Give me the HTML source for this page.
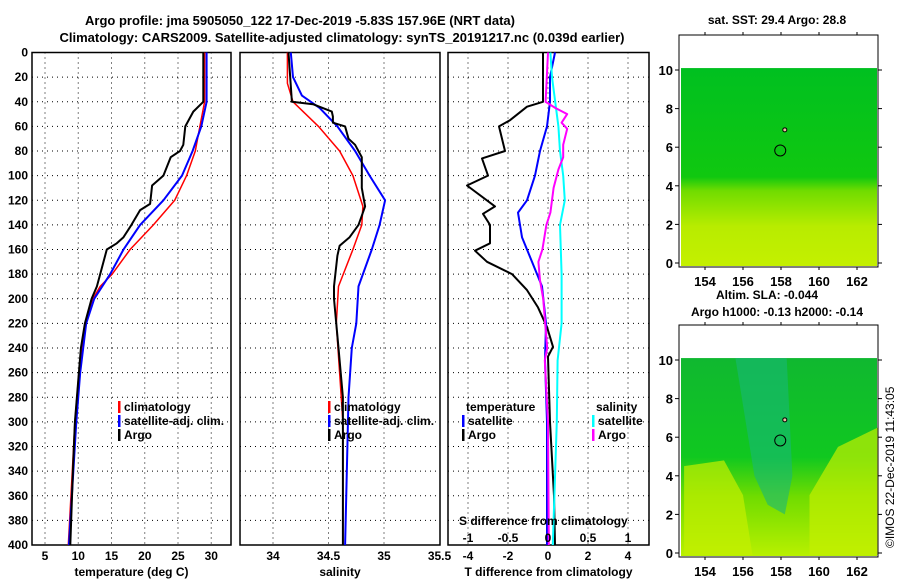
<!DOCTYPE html>
<html><head><meta charset="utf-8"><style>
body{margin:0;background:#fff;}
svg{display:block;font-family:"Liberation Sans",sans-serif;font-weight:bold;font-size:12px;}
</style></head><body>
<svg id="fig" width="900" height="580" viewBox="0 0 900 580" xmlns="http://www.w3.org/2000/svg">
<defs>
<linearGradient id="sstg" x1="0" y1="0" x2="0" y2="1">
<stop offset="0" stop-color="#00c020"/><stop offset="0.55" stop-color="#10c810"/><stop offset="0.62" stop-color="#70dc00"/><stop offset="0.8" stop-color="#b8ec00"/><stop offset="1" stop-color="#c4f000"/>
</linearGradient>
<linearGradient id="slag" x1="0" y1="0" x2="0" y2="1">
<stop offset="0" stop-color="#10b830"/><stop offset="0.5" stop-color="#10c820"/><stop offset="0.7" stop-color="#70dc00"/><stop offset="1" stop-color="#b8f000"/>
</linearGradient>
</defs>
<text x="300" y="25" text-anchor="middle" font-size="13">Argo profile: jma 5905050_122 17-Dec-2019 -5.83S 157.96E (NRT data)</text>
<text x="342" y="42" text-anchor="middle" font-size="13">Climatology: CARS2009. Satellite-adjusted climatology: synTS_20191217.nc (0.039d earlier)</text>
<g id="panels"></g>
<g id="maps"></g>
</svg>
<script>
const NS="http://www.w3.org/2000/svg";
const svg=document.getElementById('fig');
function mk(tag,attrs,parent,text){const e=document.createElementNS(NS,tag);for(const k in attrs)e.setAttribute(k,attrs[k]);if(text!==undefined)e.textContent=text;(parent||svg).appendChild(e);return e;}

// ---- data ----
const depthTicks=[0,20,40,60,80,100,120,140,160,180,200,220,240,260,280,300,320,340,360,380,400];
const tempTicks=[5,10,15,20,25,30];
const salTicks=[34,34.5,35,35.5];
const tdiffTicks=[-4,-2,0,2,4];
const sdiffTicks=[-1,-0.5,0,0.5,1];

const argoTempDepth=[0,40,48,60,75,80,85,100,108,123,128,140,150,155,160,180,190,200,220,240,260,280,300,340,400];
const argoTemp=[28.8,28.8,27.3,26.1,25.8,25.3,23.9,22.8,21.1,20.8,19.3,18,16.8,15.8,14.3,13.3,12.8,12,11,10.4,10.1,9.8,9.5,9.2,8.8];
const climTempDepth=[0,40,60,80,100,120,140,160,180,190,200,220,260,300,340,400];
const climTemp=[29.0,29.0,28.3,27.6,26.3,24.5,21.3,17.8,15.1,13.3,12.2,11,10.1,9.5,9.1,8.5];
const satTempDepth=[0,40,60,80,100,120,140,160,180,190,200,220,260,300,400];
const satTemp=[29.3,29.3,28.5,27.2,25.6,22.8,19.3,16.8,14.8,13.6,12.4,11.2,10.3,9.7,8.6];

const argoSalDepth=[0,40,42,48,52,57,60,70,75,85,110,125,140,150,157,165,190,200,240,280,320,400];
const argoSal=[34.14,34.17,34.36,34.53,34.54,34.54,34.65,34.68,34.74,34.8,34.8,34.83,34.77,34.69,34.6,34.58,34.55,34.55,34.59,34.63,34.63,34.63];
const climSalDepth=[0,25,40,60,80,100,125,140,160,190,220,260,300,400];
const climSal=[34.13,34.13,34.18,34.41,34.6,34.72,34.81,34.8,34.72,34.59,34.57,34.6,34.63,34.63];
const satSalDepth=[0,20,35,45,60,80,100,120,140,160,190,220,240,280,320,400];
const satSal=[34.16,34.18,34.26,34.42,34.58,34.74,34.87,35.01,34.96,34.89,34.77,34.75,34.71,34.68,34.67,34.65];

const argoTdDepth=[0,40,44,55,60,80,86,100,108,125,131,140,155,161,170,180,193,207,223,239,247,300,360,400];
const argoTd=[-0.25,-0.25,-1.05,-1.9,-2.45,-2.15,-3.3,-3.0,-4.05,-2.65,-3.25,-2.9,-2.9,-3.65,-3.05,-1.8,-1.05,-0.5,-0.05,0.25,0.0,0.1,0.3,0.35];
const satTdDepth=[0,20,40,60,80,100,120,130,150,170,190,220,250,300,400];
const satTd=[0.35,0.1,0.1,-0.05,-0.4,-0.65,-1.05,-1.5,-1.3,-0.8,-0.3,-0.1,-0.15,-0.05,-0.05];
const argoSdDepth=[0,40,45,50,57,62,75,85,95,110,130,140,160,170,185,200,240,250,300,400];
const argoSd=[0,-0.03,0.09,0.24,0.17,0.24,0.19,0.19,0.13,0.07,0.03,-0.02,-0.07,-0.12,-0.1,-0.06,-0.01,-0.04,0,0.01];
const satSdDepth=[0,20,40,60,80,100,120,140,180,220,250,300,400];
const satSd=[0.03,0.05,0.09,0.13,0.15,0.19,0.21,0.15,0.17,0.17,0.12,0.11,0.06];

// ---- axes ----
const Y0=52.5,Y1=545;
const yD=d=>Y0+d*(Y1-Y0)/400;
const xT=t=>45+(t-5)*6.65;
const xS=s=>273+(s-34)*111;
const xTd=v=>548+v*20;
const xSd=v=>548+v*80;

const P=document.getElementById('panels');
function panel(name,x0,x1,ticks,xf,fmt,title){
  const g=mk('g',{},P);
  // grid
  depthTicks.forEach((d,i)=>{if(i>0&&i<depthTicks.length-1){const l=mk('line',{x1:x0,x2:x1,y1:yD(d),y2:yD(d),stroke:'#000','stroke-dasharray':'1,4','stroke-width':1},g);}});
  ticks.forEach(t=>{const x=xf(t);if(x>x0+2&&x<x1-2){const l=mk('line',{x1:x,x2:x,y1:Y0,y2:Y1,stroke:'#000','stroke-dasharray':'1,4','stroke-width':1},g);}});
  ticks.forEach(t=>{const tx=mk('text',{x:xf(t),y:560,'text-anchor':'middle'},g,fmt(t));});
  const tt=mk('text',{x:(x0+x1)/2,y:576,'text-anchor':'middle'},g,title);
  
  const r=mk('rect',{x:x0,y:Y0,width:x1-x0,height:Y1-Y0,fill:'none',stroke:'#000','stroke-width':1.5},g);
  
  return g;
}
function line(g,depths,vals,xf,color,w,name){
  let d='';depths.forEach((dp,i)=>{d+=(i?'L':'M')+xf(vals[i]).toFixed(1)+','+yD(dp).toFixed(1);});
  const p=mk('path',{d:d,fill:'none',stroke:color,'stroke-width':w,'stroke-linejoin':'round'},g);
  
}
function legend(g,x,y,color,label,name){
  const r=mk('rect',{x:x,y:y-10,width:2.5,height:12,fill:color},g);
  
  const t=mk('text',{x:x+6,y:y},g,label);
  
}
// depth labels
const dl=mk('g',{},P);
depthTicks.forEach(d=>{const t=mk('text',{x:28,y:yD(d)+4,'text-anchor':'end'},dl,String(d));});

const g1=panel('temperature-panel',32,231,tempTicks,xT,String,'temperature (deg C)');
line(g1,climTempDepth,climTemp,xT,'#f00',1.5,'climatology-temp-line');
line(g1,satTempDepth,satTemp,xT,'#00f',2,'satellite-temp-line');
line(g1,argoTempDepth,argoTemp,xT,'#000',2,'argo-temp-line');
legend(g1,118,411,'#f00','climatology','legend-climatology');
legend(g1,118,425,'#00f','satellite-adj. clim.','legend-satellite');
legend(g1,118,439,'#000','Argo','legend-argo');

const g2=panel('salinity-panel',240,440,salTicks,xS,String,'salinity');
line(g2,climSalDepth,climSal,xS,'#f00',1.5,'climatology-sal-line');
line(g2,satSalDepth,satSal,xS,'#00f',2,'satellite-sal-line');
line(g2,argoSalDepth,argoSal,xS,'#000',2,'argo-sal-line');
legend(g2,328,411,'#f00','climatology','legend-climatology');
legend(g2,328,425,'#00f','satellite-adj. clim.','legend-satellite');
legend(g2,328,439,'#000','Argo','legend-argo');

const g3=panel('difference-panel',448,649,tdiffTicks,xTd,String,'T difference from climatology');
line(g3,argoTdDepth,argoTd,xTd,'#000',2,'argo-tdiff-line');
line(g3,satTdDepth,satTd,xTd,'#00f',2,'satellite-tdiff-line');
line(g3,satSdDepth,satSd,xSd,'#0ff',2,'satellite-sdiff-line');
line(g3,argoSdDepth,argoSd,xSd,'#f0f',2,'argo-sdiff-line');
const lt=mk('text',{x:466,y:411},g3,'temperature');
const ls=mk('text',{x:596,y:411},g3,'salinity');
legend(g3,462,425,'#00f','satellite','legend-temp-satellite');
legend(g3,462,439,'#000','Argo','legend-temp-argo');
legend(g3,592,425,'#0ff','satellite','legend-sal-satellite');
legend(g3,592,439,'#f0f','Argo','legend-sal-argo');
const st=mk('text',{x:459,y:525},g3,'S difference from climatology');
sdiffTicks.forEach(v=>{const t=mk('text',{x:xSd(v),y:542,'text-anchor':'middle'},g3,String(v));});

// ---- maps ----
const M=document.getElementById('maps');
const lonTicks=[154,156,158,160,162];
const latTicks=[0,2,4,6,8,10];
function map(name,top,bottomY,fill,titles,extra){
  const g=mk('g',{},M);
  const lat10=top+35,lat0=bottomY-4;
  const yL=l=>lat0-(lat0-lat10)*l/10;
  const xL=l=>705+(l-154)*19;
  titles.forEach((t,i)=>{const e=mk('text',{x:t[1],y:t[2],'text-anchor':'middle'},g,t[0]);});
  const bg=mk('rect',{x:681,y:yL(10.1),width:196,height:lat0+3-yL(10.1),fill:'url(#'+fill+')'},g);
  
  if(extra)extra(g,xL,yL);
  const fr=mk('rect',{x:679,y:top,width:199,height:bottomY-top,fill:'none',stroke:'#000','stroke-width':1},g);
  
  latTicks.forEach(l=>{const t=mk('text',{x:673,y:yL(l)+5,'text-anchor':'end','font-size':13},g,String(l));
    mk('line',{x1:878,x2:882,y1:yL(l),y2:yL(l),stroke:'#000'},g);mk('line',{x1:675,x2:679,y1:yL(l),y2:yL(l),stroke:'#000'},g);});
  lonTicks.forEach(l=>{const t=mk('text',{x:xL(l),y:bottomY+19,'text-anchor':'middle','font-size':13},g,String(l));
    mk('line',{x1:xL(l),x2:xL(l),y1:top-3,y2:top,stroke:'#000'},g);mk('line',{x1:xL(l),x2:xL(l),y1:bottomY,y2:bottomY+3,stroke:'#000'},g);});
  const c=mk('circle',{cx:xL(157.96),cy:yL(5.83),r:5.5,fill:'none',stroke:'#000','stroke-width':1},g);
  
  const is=mk('circle',{cx:xL(158.2),cy:yL(6.9),r:2,fill:'#f0c0a0',stroke:'#000','stroke-width':1},g);
  
}
map('sst-map',35,267,'sstg',[['sat. SST: 29.4 Argo: 28.8',777,24]],null);
map('sla-map',325,557,'slag',[['Altim. SLA: -0.044',767,299],['Argo h1000: -0.13 h2000: -0.14',777,316]],function(g,xL,yL){
  const p=mk('path',{d:`M${xL(155.6)},${yL(10.1)} L${xL(158.3)},${yL(10.1)} L${xL(158.6)},${yL(4)} L${xL(158.2)},${yL(2)} L${xL(157.3)},${yL(2.5)} L${xL(156.6)},${yL(4)} Z`,fill:'#18b878',opacity:0.6},g);
  
  const q=mk('path',{d:`M${xL(152.9)},${yL(-0.1)} L${xL(152.9)},${yL(4.5)} L${xL(155)},${yL(4.8)} L${xL(156)},${yL(3)} L${xL(156.5)},${yL(-0.1)} Z`,fill:'#c4f000',opacity:0.7},g);
  
  const r=mk('path',{d:`M${xL(163.1)},${yL(-0.1)} L${xL(163.1)},${yL(6.5)} L${xL(161)},${yL(5.5)} L${xL(159.5)},${yL(3)} L${xL(159.5)},${yL(-0.1)} Z`,fill:'#c4f000',opacity:0.7},g);
  
});
const cp=mk('text',{x:0,y:0,transform:'translate(894,548) rotate(-90)','font-weight':'normal','font-size':12},M,'©IMOS 22-Dec-2019 11:43:05');

</script>
</body></html>
